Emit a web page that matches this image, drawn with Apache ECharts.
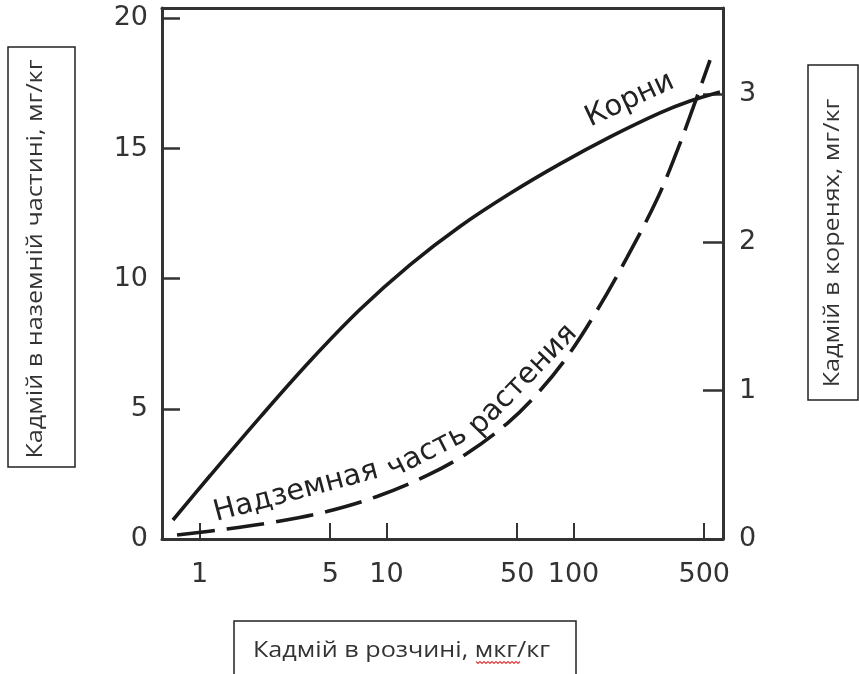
<!DOCTYPE html>
<html><head><meta charset="utf-8">
<script src="https://cdn.jsdelivr.net/npm/echarts@6/dist/echarts.min.js"></script>
<style>html,body{margin:0;padding:0;background:#fff}#c{width:859px;height:674px}</style>
</head><body><div id="c"></div>
<script>
// ---- data ----
const xTicks = [1, 5, 10, 50, 100, 500];
const leftTicks = [0, 5, 10, 15, 20];
const rightTicks = [0, 1, 2, 3];

// Корни (right axis, мг/кг)
const rootsX = [0.721, 1.14, 2.11, 3.90, 7.21, 13.4, 24.7, 45.7, 84.7, 157, 290, 420, 607];
const rootsY = [0.128, 0.428, 0.822, 1.200, 1.547, 1.850, 2.107, 2.329, 2.529, 2.711, 2.873, 2.953, 3.014];

// Надземная часть растения (left axis, мг/кг)
const shootX = [0.758, 1.40, 2.60, 4.80, 8.89, 16.5, 26.9, 44.1, 63.8, 92.3, 134, 193, 280, 358, 436, 537];
const shootY = [0.154, 0.384, 0.672, 1.056, 1.633, 2.44, 3.285, 4.437, 5.571, 6.992, 8.798, 10.81, 13.06, 14.91, 16.57, 18.40];

const titleLeft = 'Кадмій в наземній частині, мг/кг';
const titleRight = 'Кадмій в коренях, мг/кг';
const titleBottom = 'Кадмій в розчині, мкг/кг';

// ---- chart ----
const zip = (xs, ys) => xs.map((x, i) => [x, ys[i]]);
const ink = '#1a1a1a';
const axisInk = '#333';
const tickFont = { fontFamily: 'DejaVu Sans', fontSize: 27, color: '#333' };
const annFont = { fontFamily: 'DejaVu Sans', fontSize: 29, color: '#222' };

function ann(coord, text, rot) {
  return {
    coord: coord, value: text,
    label: Object.assign({ show: true, formatter: text, rotate: rot, position: 'inside',
      align: 'center', verticalAlign: 'middle' }, annFont)
  };
}

// red spell-check squiggle under "мкг"
const squig = [];
for (let i = 0; i <= 22; i++) squig.push([476 + i * 2, 662 + (i % 2 ? 1.5 : -0.5)]);

const chart = echarts.init(document.getElementById('c'), null, { renderer: 'canvas' });
chart.setOption({
  animation: false,
  backgroundColor: '#fff',
  grid: { left: 162, right: 136, top: 8, bottom: 135 },
  xAxis: [{
    type: 'log', logBase: 10, min: 0.63, max: 630,
    axisLine: { show: true, lineStyle: { color: axisInk, width: 3 } },
    axisTick: { show: true, inside: true, length: 16, customValues: xTicks, lineStyle: { color: axisInk, width: 2 } },
    minorTick: { show: false },
    axisLabel: Object.assign({ customValues: xTicks, margin: 22 }, tickFont),
    splitLine: { show: false }
  }, {
    type: 'value', position: 'top', min: 0, max: 1,
    axisLine: { show: true, onZero: false, lineStyle: { color: axisInk, width: 3 } },
    axisTick: { show: false }, axisLabel: { show: false }, splitLine: { show: false }
  }],
  yAxis: [{
    type: 'value', position: 'left', min: 0, max: 20.4,
    axisLine: { show: true, onZero: false, lineStyle: { color: axisInk, width: 3 } },
    axisTick: { show: true, inside: true, length: 18, customValues: [5, 10, 15, 20], lineStyle: { color: axisInk, width: 2.5 } },
    axisLabel: Object.assign({ customValues: leftTicks, margin: 14 }, tickFont),
    splitLine: { show: false }
  }, {
    type: 'value', position: 'right', min: 0, max: 3.58,
    axisLine: { show: true, onZero: false, lineStyle: { color: axisInk, width: 3 } },
    axisTick: { show: true, inside: true, length: 20, customValues: [1, 2, 3], lineStyle: { color: axisInk, width: 2.5 } },
    axisLabel: Object.assign({ customValues: rightTicks, margin: 16 }, tickFont),
    splitLine: { show: false }
  }],
  series: [{
    name: 'Корни', type: 'line', xAxisIndex: 0, yAxisIndex: 1,
    data: zip(rootsX, rootsY), smooth: 0.35, showSymbol: false, silent: true,
    lineStyle: { color: ink, width: 3.6 },
    markPoint: { symbol: 'circle', symbolSize: 0, silent: true,
      data: [ann([200, 2.96], 'Корни', 25)] }
  }, {
    name: 'Надземная часть растения', type: 'line', xAxisIndex: 0, yAxisIndex: 0,
    data: zip(shootX, shootY), smooth: 0.35, showSymbol: false, silent: true,
    lineStyle: { color: ink, width: 3.6, type: [38, 12] },
    markPoint: { symbol: 'circle', symbolSize: 0, silent: true,
      data: [ann([3.28, 1.81], 'Надземная', 15), ann([16.5, 3.34], 'часть', 27), ann([53.7, 6.11], 'растения', 46)] }
  }],
  graphic: [
    { type: 'rect', shape: { x: 8, y: 47, width: 67, height: 420 }, style: { fill: '#fff', stroke: '#222', lineWidth: 1.5 } },
    { type: 'text', x: 36, y: 259, rotation: Math.PI / 2, scaleX: 1.2,
      style: { text: titleLeft, font: '21px "Open Sans"', fill: '#333', align: 'center', verticalAlign: 'middle' } },
    { type: 'rect', shape: { x: 808, y: 65, width: 50, height: 335 }, style: { fill: '#fff', stroke: '#222', lineWidth: 1.5 } },
    { type: 'text', x: 833, y: 243, rotation: Math.PI / 2, scaleX: 1.2,
      style: { text: titleRight, font: '21px "Open Sans"', fill: '#333', align: 'center', verticalAlign: 'middle' } },
    { type: 'rect', shape: { x: 234, y: 621, width: 342, height: 70 }, style: { fill: '#fff', stroke: '#222', lineWidth: 1.5 } },
    { type: 'text', x: 253, y: 651, scaleX: 1.2,
      style: { text: titleBottom, font: '21px "Open Sans"', fill: '#333', align: 'left', verticalAlign: 'middle' } },
    { type: 'polyline', shape: { points: squig }, style: { stroke: '#e04040', lineWidth: 1.2, fill: null } }
  ]
});
</script>
</body></html>
